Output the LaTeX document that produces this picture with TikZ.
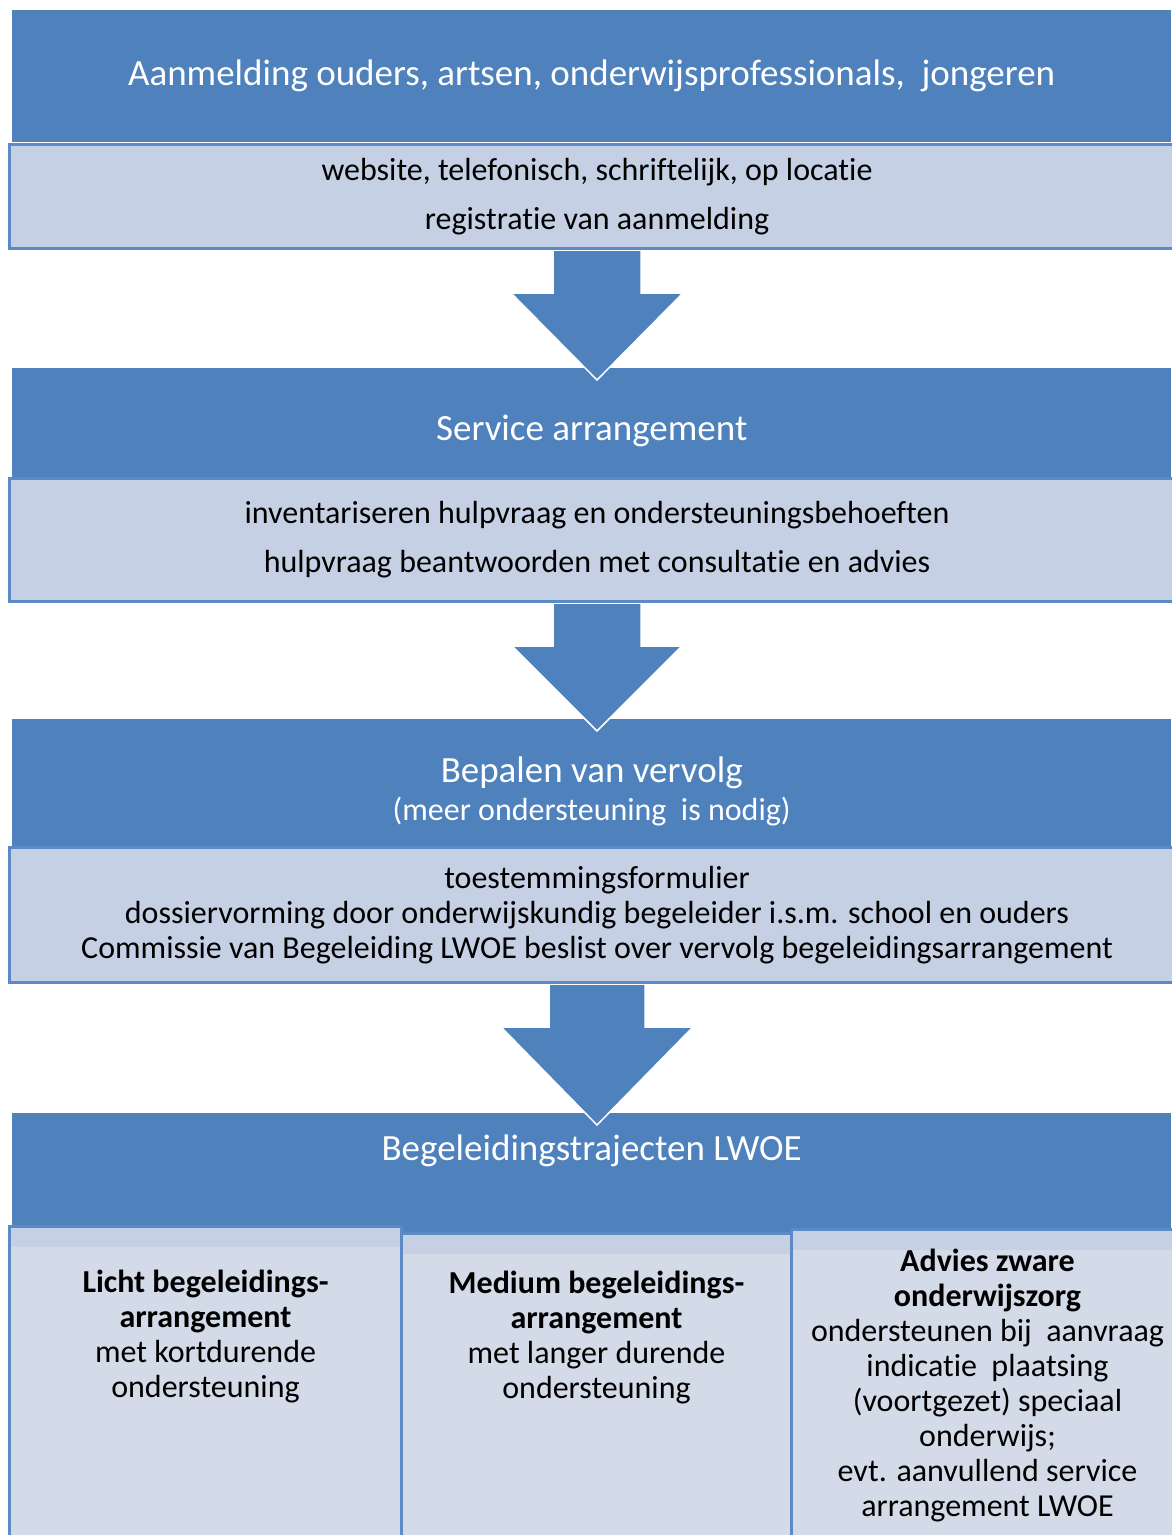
\documentclass[tikz,border=0pt]{standalone}
\usepackage{fontspec}
\setmainfont{Carlito}[Ligatures=NoCommon]
\usetikzlibrary{calc}
\definecolor{hdblue}{HTML}{4F81BD}
\definecolor{lineblue}{HTML}{5B8AC4}
\definecolor{boxfill}{HTML}{C5D0E4}
\definecolor{lowfill}{HTML}{D3DAE8}
\tikzstyle{header} = [rectangle, fill=hdblue, text=white, inner sep=0pt, minimum width=1159pt, anchor=north west, align=center, font=\fontsize{37}{38}\selectfont]
\tikzstyle{infobox} = [rectangle, fill=boxfill, draw=lineblue, line width=3pt, inner sep=0pt, minimum width=1175pt, anchor=north west, align=center, font=\fontsize{32}{49}\selectfont]
\tikzstyle{trackbox} = [rectangle, fill=lowfill, draw=lineblue, line width=3pt, inner sep=0pt, anchor=north west, font=\fontsize{32}{35}\selectfont, path picture={\fill[boxfill] (path picture bounding box.north west) rectangle ([yshift=-20pt]path picture bounding box.north east);}]
\tikzstyle{flowarrow} = [fill=hdblue, draw=white, line width=1.5pt, line join=miter]

\begin{document}
\begin{tikzpicture}[x=1pt, y=-1pt]
\useasboundingbox (0,0) rectangle (1171,1535);
% steps
\node[header, minimum height=132pt] (aanmelding) at (12,10) {Aanmelding ouders, artsen, onderwijsprofessionals,\ \ jongeren};
\node[infobox, minimum height=104pt] (kanalen) at (8,143) {website, telefonisch, schriftelijk, op locatie\\registratie van aanmelding};
\node[header, minimum height=109pt, text height=36pt, text depth=1pt] (service) at (12,368) {Service arrangement};
\node[infobox, minimum height=123pt] (hulpvraag) at (8,477) {inventariseren hulpvraag en ondersteuningsbehoeften\\hulpvraag beantwoorden met consultatie en advies};
\node[header, minimum height=128pt] (vervolg) at (12,719) {\rule{0pt}{42pt}Bepalen van vervolg\\{\fontsize{32}{32}\selectfont (meer ondersteuning\ \ is nodig)}};
\node[infobox, minimum height=135pt, font=\fontsize{32}{35}\selectfont] (dossier) at (8,846) {toestemmingsformulier\\dossiervorming door onderwijskundig begeleider i.s.m. school en ouders\\Commissie van Begeleiding LWOE beslist over vervolg begeleidingsarrangement};
\node[header, minimum height=119pt, text height=24pt, text depth=48pt] (trajecten) at (12,1113) {Begeleidingstrajecten LWOE};
% tracks
\node[trackbox] (licht) at (8,1225) {%
    \begin{minipage}[t][320pt][t]{392pt}
        \centering\vspace*{44pt}
        \textbf{Licht begeleidings-}\\
        \textbf{arrangement}\\
        met kortdurende\\
        ondersteuning
    \end{minipage}
};
\node[trackbox] (medium) at (400,1232) {%
    \begin{minipage}[t][315pt][t]{390pt}
        \centering\vspace*{38pt}
        \textbf{Medium begeleidings-}\\
        \textbf{arrangement}\\
        met langer durende\\
        ondersteuning
    \end{minipage}
};
\node[trackbox] (zwaar) at (790,1228) {%
    \begin{minipage}[t][317pt][t]{392pt}
        \centering\vspace*{20pt}
        \textbf{Advies zware}\\
        \textbf{onderwijszorg}\\
        ondersteunen bij\ \ aanvraag\\
        indicatie\ \ plaatsing\\
        (voortgezet) speciaal\\
        onderwijs;\\
        evt. aanvullend service\\
        arrangement LWOE
    \end{minipage}
};
% arrows
\foreach \src/\dst/\sw/\hw in {kanalen/service/44/86, hulpvraag/vervolg/44/85, dossier/trajecten/48/96}{
    \draw[flowarrow] ($(\src.south)+(-\sw,1)$) -- ($(\src.south)+(-\sw,43)$) -- ($(\src.south)+(-\hw,43)$)
        -- ($(\src.south |- \dst.north)+(0,12)$) -- ($(\src.south)+(\hw,43)$) -- ($(\src.south)+(\sw,43)$) -- ($(\src.south)+(\sw,1)$);
}
\end{tikzpicture}
\end{document}
